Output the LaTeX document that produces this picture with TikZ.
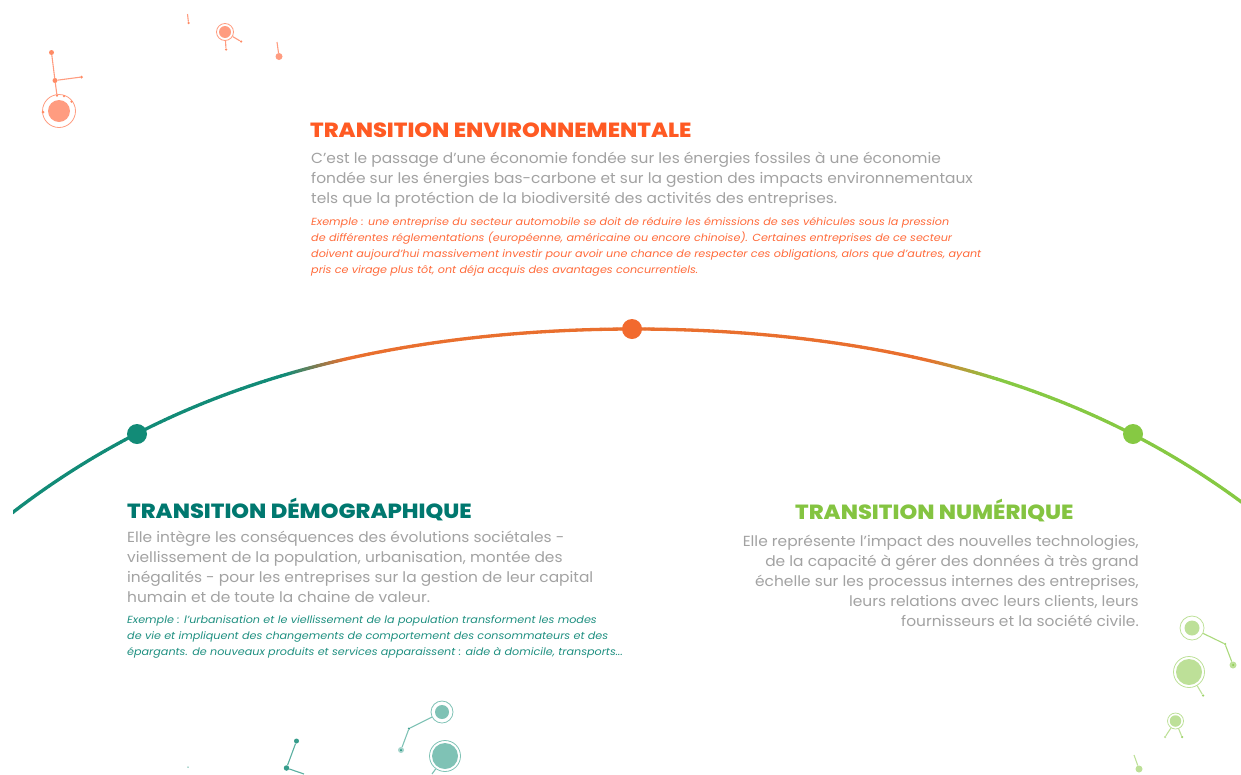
\documentclass[tikz,border=0pt]{standalone}
\usepackage{fontspec}
\setmainfont{Poppins}
\newfontfamily\ttlfont[FakeStretch=1.10]{Poppins ExtraBold}
\newfontfamily\bodyfont[FakeStretch=1.057]{Poppins}
\newfontfamily\exfont[FakeStretch=1.085,ItalicFont={Poppins Italic}]{Poppins}
\definecolor{oranged}{HTML}{F26A2E}
\definecolor{orangel}{HTML}{E96F2E}
\definecolor{tealc}{HTML}{128B77}
\definecolor{greenc}{HTML}{86C943}
\definecolor{titleo}{HTML}{FF5A23}
\definecolor{titlet}{HTML}{00786F}
\definecolor{titleg}{HTML}{84C441}
\definecolor{bodyg}{HTML}{A2A2A2}
\definecolor{exo}{HTML}{FF6A3A}
\definecolor{ext}{HTML}{1E8F80}
\definecolor{paleo}{HTML}{FF9C80}
\definecolor{palet}{HTML}{7FC2B5}
\definecolor{paleg}{HTML}{BDE098}
\tikzset{
 x=1pt,y=-1pt,
 ttlnode/.style={anchor=west,inner sep=0pt,font=\fontsize{20.5}{24}\selectfont\ttlfont},
 body/.style={anchor=north west,inner sep=0pt,text=bodyg,align=left,font=\fontsize{14.6}{19.9}\selectfont\bodyfont},
 bodyr/.style={anchor=north east,inner sep=0pt,text=bodyg,align=right,font=\fontsize{14.6}{19.9}\selectfont\bodyfont},
 ex/.style={anchor=north west,inner sep=0pt,align=left,font=\fontsize{10.3}{16}\selectfont\exfont\itshape},
 bigdot/.style={circle,inner sep=0pt,minimum size=20pt},
 disc/.style={circle,inner sep=0pt,minimum size=#1,fill},
 ring/.style={circle,inner sep=0pt,minimum size=#1,draw,line width=.8pt},
 link/.style={line width=1.1pt},
}
\begin{document}
\begin{tikzpicture}
\useasboundingbox (0,0) rectangle (1241,774);
% arc
\begin{scope}
\clip (13,300) rectangle (1241,540);
\foreach \xa in {9,13,...,1241}{
 \pgfmathsetmacro\xb{min(\xa+4,1245)}
 \pgfmathsetmacro\ta{(\xa-634)/100}
 \pgfmathsetmacro\tb{(\xb-634)/100}
 \pgfmathsetmacro\ya{329+3.302*\ta*\ta+0.0376*\ta*\ta*\ta*\ta}
 \pgfmathsetmacro\yb{329+3.302*\tb*\tb+0.0376*\tb*\tb*\tb*\tb}
 \pgfmathsetmacro\pct{\xa<632 ? max(0,min(100,(\xa-285)/(345-285)*100)) : max(0,min(100,(995-\xa)/(995-925)*100))}
 \ifdim\xa pt<632pt
  \colorlet{segc}{orangel!\pct!tealc}
 \else
  \colorlet{segc}{orangel!\pct!greenc}
 \fi
 \draw[segc,line width=3.3pt,line cap=round] (\xa,\ya) -- (\xb,\yb);
}
\end{scope}
\node[bigdot,fill=tealc] (dotT) at (137,434) {};
\node[bigdot,fill=oranged] (dotO) at (632,329) {};
\node[bigdot,fill=greenc] (dotG) at (1133,434) {};
% texts
\node[ttlnode,text=titleo] (t1) at (310,130) {TRANSITION ENVIRONNEMENTALE};
\node[body] (b1) at (311,152) {C’est le passage d’une économie fondée sur les énergies fossiles à une économie\\fondée sur les énergies bas-carbone et sur la gestion des impacts environnementaux\\tels que la protéction de la biodiversité des activités des entreprises.};
\node[ex,text=exo] (e1) at (311,217) {Exemple : une entreprise du secteur automobile se doit de réduire les émissions de ses véhicules sous la pression\\de différentes réglementations (européenne, américaine ou encore chinoise). Certaines entreprises de ce secteur\\doivent aujourd’hui massivement investir pour avoir une chance de respecter ces obligations, alors que d’autres, ayant\\pris ce virage plus tôt, ont déja acquis des avantages concurrentiels.};
\node[ttlnode,text=titlet] (t2) at (127,510) {TRANSITION DÉMOGRAPHIQUE};
\node[body] (b2) at (127,531) {Elle intègre les conséquences des évolutions sociétales -\\viellissement de la population, urbanisation, montée des\\inégalités - pour les entreprises sur la gestion de leur capital\\humain et de toute la chaine de valeur.};
\node[ex,text=ext] (e2) at (127,615) {Exemple : l’urbanisation et le viellissement de la population transforment les modes\\de vie et impliquent des changements de comportement des consommateurs et des\\épargants. de nouveaux produits et services apparaissent : aide à domicile, transports...};
\node[ttlnode,text=titleg] (t3) at (795,511) {TRANSITION NUMÉRIQUE};
\node[bodyr] (b3) at (1139,535) {Elle représente l’impact des nouvelles technologies,\\de la capacité à gérer des données à très grand\\échelle sur les processus internes des entreprises,\\leurs relations avec leurs clients, leurs\\fournisseurs et la société civile.};
% orange constellation
\node[disc=22pt,fill=paleo] (oa) at (59,111) {};
\node[ring=33pt,draw=paleo] (oar) at (59,111) {};
\node[disc=5pt,fill=titleo!70] (ob) at (51.5,52.5) {};
\node[disc=5pt,fill=titleo!70] (oc) at (55,80.5) {};
\node[disc=3pt,fill=titleo!70] (od) at (81.5,77) {};
\node[disc=3pt,fill=titleo!70] (oe) at (43,112) {};
\node[disc=2.5pt,fill=titleo!70] (om) at (57,95.5) {};
\node[disc=2.5pt,fill=titleo!70] (on) at (64,96) {};
\node[disc=2.5pt,fill=titleo!70] (oo) at (71.5,101.5) {};
\draw[link,draw=paleo] (ob) -- (oc) (oc) -- (od) (oc) -- (om);
\node[disc=12pt,fill=paleo] (of) at (225,32) {};
\node[ring=17pt,draw=paleo] (ofr) at (225,32) {};
\node[disc=2.5pt,fill=titleo!70] (og) at (226,49.5) {};
\node[disc=2.5pt,fill=titleo!70] (oh) at (241,41.5) {};
\draw[link,draw=paleo] (ofr) -- (og) (ofr) -- (oh);
\node[disc=2.5pt,fill=titleo!70] (oi) at (188.5,23) {};
\coordinate (oj) at (187.5,14);
\draw[link,draw=paleo] (oi) -- (oj);
\node[disc=7pt,fill=paleo] (ok) at (279,56.5) {};
\coordinate (ol) at (277,42);
\draw[link,draw=paleo] (ok) -- (ol);
% teal constellation
\node[disc=14pt,fill=palet] (ta) at (442,712) {};
\node[ring=22pt,draw=palet] (tar) at (442,712) {};
\node[disc=2.5pt,fill=tealc!80] (tb) at (409,728.5) {};
\node[disc=6pt,fill=palet!70] (tc) at (401,750) {};
\node[disc=2pt,fill=tealc] (tc2) at (401,750) {};
\draw[link,draw=palet] (tar) -- (tb) (tb) -- (tc);
\node[disc=26pt,fill=palet] (td) at (445,756) {};
\node[ring=31pt,draw=palet] (tdr) at (445,756) {};
\coordinate (te) at (432,774);
\draw[link,draw=palet] (tdr) -- (te);
\node[disc=5pt,fill=tealc!85] (tf) at (296.5,741) {};
\node[disc=5.5pt,fill=tealc!85] (tg) at (286.5,768) {};
\coordinate (th) at (304,774);
\draw[link,draw=tealc!70] (tf) -- (tg) (tg) -- (th);
\node[disc=1.5pt,fill=tealc!70] (ti) at (188,767) {};
% green constellation
\node[disc=15pt,fill=paleg] (ga) at (1192,628) {};
\node[ring=24pt,draw=paleg] (gar) at (1192,628) {};
\node[disc=2.5pt,fill=greenc!80] (gb) at (1225,644) {};
\node[disc=7pt,fill=paleg] (gc) at (1233,665) {};
\node[disc=2pt,fill=greenc] (gc2) at (1233,665) {};
\draw[link,draw=greenc!70] (gar) -- (gb) (gb) -- (gc);
\node[disc=26pt,fill=paleg] (gd) at (1189,672) {};
\node[ring=31pt,draw=paleg] (gdr) at (1189,672) {};
\node[disc=2.5pt,fill=greenc!80] (ge) at (1203,695.5) {};
\draw[link,draw=paleg] (gdr) -- (ge);
\node[disc=11.5pt,fill=paleg] (gf) at (1175.5,721) {};
\node[ring=16pt,draw=paleg] (gfr) at (1175.5,721) {};
\node[disc=2.5pt,fill=paleg] (gg) at (1165,737) {};
\node[disc=2.5pt,fill=greenc!80] (gh) at (1182,737) {};
\draw[link,draw=paleg] (gfr) -- (gg) (gfr) -- (gh);
\node[disc=7pt,fill=paleg] (gi) at (1139,769) {};
\coordinate (gj) at (1134,755);
\draw[link,draw=paleg] (gi) -- (gj);
\end{tikzpicture}
\end{document}
